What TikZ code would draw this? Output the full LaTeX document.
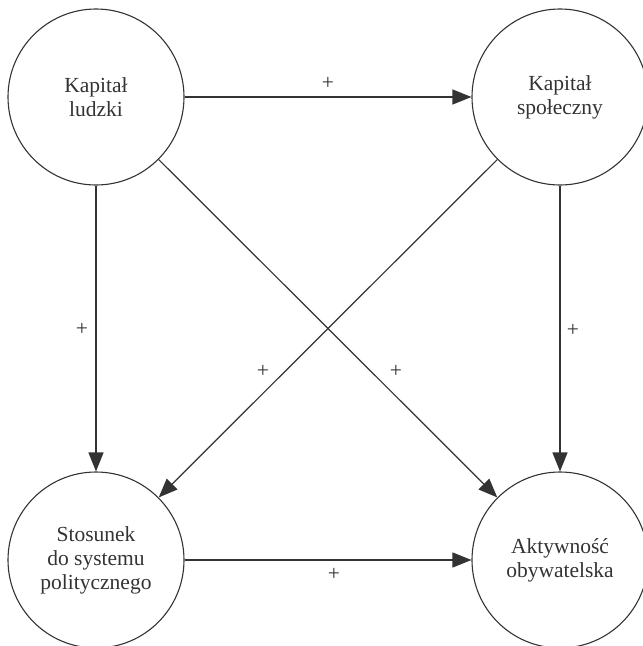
\documentclass[tikz,border=0pt]{standalone}
\usepackage{fontspec}
\setmainfont{Liberation Serif}
\usetikzlibrary{arrows.meta}
\definecolor{ink}{HTML}{333333}
\begin{document}
\begin{tikzpicture}[x=1pt,y=-1pt,
  concept/.style={circle,draw=ink,line width=1.1pt,minimum size=176pt,inner sep=0pt,
    align=center,text=ink,font=\fontsize{21.5}{24}\selectfont},
  link/.style={draw=ink,line width=1.2pt,-{Triangle[length=19pt,width=15pt]}},
  plus/.style={text=ink,font=\fontsize{21.5}{24}\selectfont,inner sep=0pt}]
\useasboundingbox (0,0) rectangle (643,646);
\node[concept] (hc) at (96,97) {Kapitał\\ludzki};
\node[concept] (sc) at (560,97) {Kapitał\\społeczny};
\node[concept] (ps) at (96,560) {Stosunek\\do systemu\\politycznego};
\node[concept] (ca) at (560,560) {Aktywność\\obywatelska};
\draw[link] (hc) -- (sc);
\draw[link] (hc) -- (ps);
\draw[link] (hc) -- (ca);
\draw[link] (sc) -- (ps);
\draw[link] (sc) -- (ca);
\draw[link] (ps) -- (ca);
\node[plus] (p1) at (328,83) {+};
\node[plus] (p2) at (82,329) {+};
\node[plus] (p3) at (573,330) {+};
\node[plus] (p4) at (263,371) {+};
\node[plus] (p5) at (396,371) {+};
\node[plus] (p6) at (334,574) {+};
\end{tikzpicture}
\end{document}
